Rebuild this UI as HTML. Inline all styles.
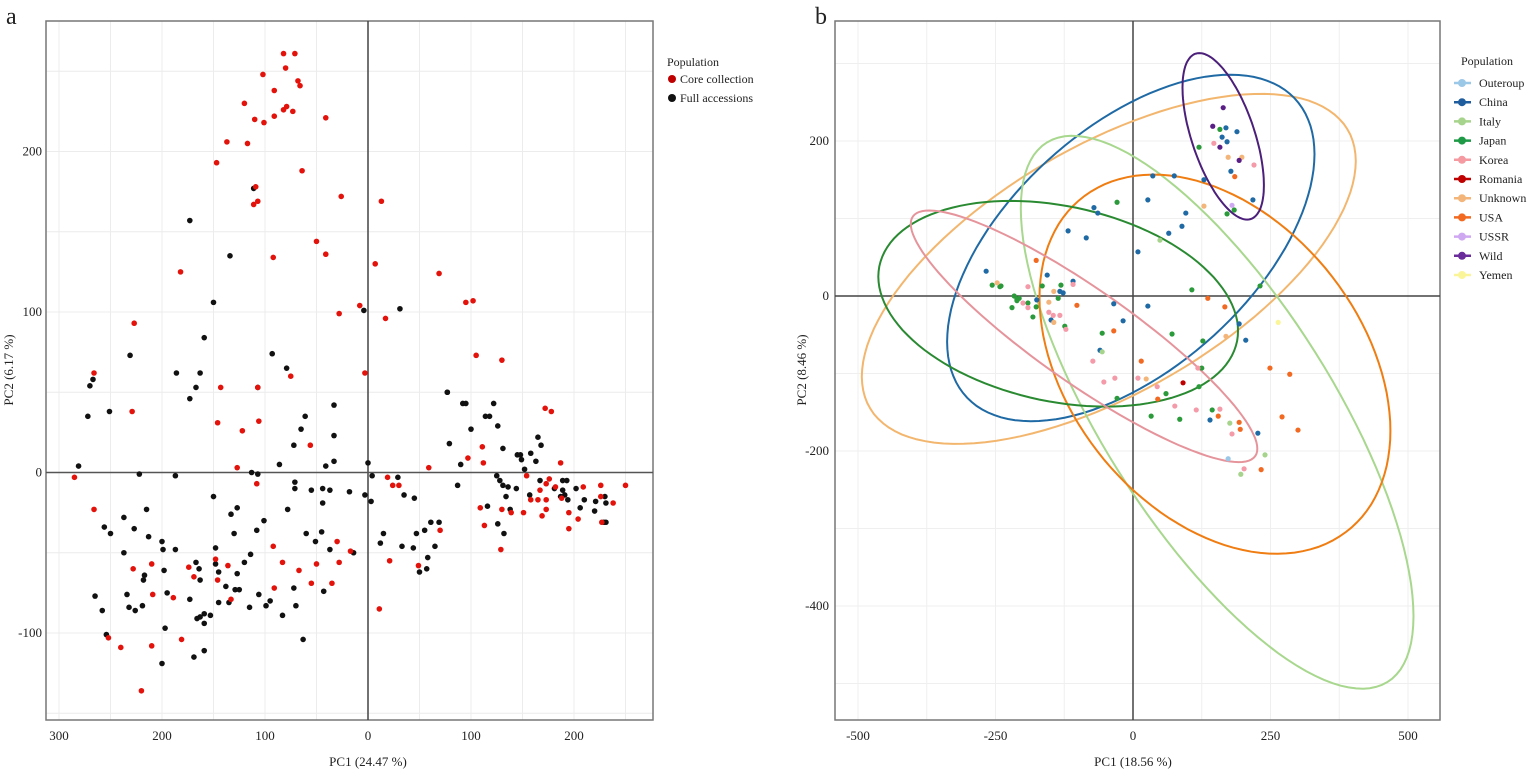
<!DOCTYPE html>
<html><head><meta charset="utf-8"><style>
body{margin:0;background:#fff;}
svg text{font-family:"Liberation Serif",serif;fill:#222;}
</style></head><body>
<svg id="chart" width="1535" height="776" viewBox="0 0 1535 776" xmlns="http://www.w3.org/2000/svg">
<rect width="1535" height="776" fill="#fff"/>
<text x="6" y="24" font-size="24">a</text>
<text x="815" y="24" font-size="24">b</text>
<g id="pa"></g>
<g id="pb"></g>
</svg>
<script>
// ---------- Panel a data ----------
const aXTicks = [-300,-200,-100,0,100,200];
const aYTicks = [-100,0,100,200];
const coreCollection = [[-82,261],[-71,261],[-80,252],[-102,248],[-68,244],[-66,241],[-91,238],[-120,230],[-79,228],[-82,226],[-73,225],[-91,222],[-110,220],[-101,218],[-41,221],[-137,206],[-117,205],[-147,193],[-64,188],[-109,178],[-26,172],[-107,169],[-111,167],[13,169],[-50,144],[-41,136],[-92,134],[7,130],[-182,125],[69,124],[95,106],[102,107],[-8,104],[-28,99],[17,96],[-227,93],[105,73],[130,70],[-266,62],[-3,62],[-75,60],[-143,53],[-107,53],
[-285,-3],[-266,-23],[-229,38],[-146,31],[-122,26],[-127,3],[-108,-7],[-56,17],[-106,32],[-228,-60],[-210,-57],[-209,-76],[-189,-78],[-174,-59],[-169,-65],[-148,-54],[-146,-67],[-136,-58],[-133,-79],[-92,-46],[-83,-56],[-91,-72],[-67,-61],[-55,-69],[-50,-57],[-35,-69],[-30,-43],[-28,-56],[-17,-49],[-252,-103],[-240,-109],[-210,-108],[-181,-104],[-220,-136],
[172,40],[178,38],[111,16],[97,9],[112,6],[59,3],[187,6],[154,-2],[176,-4],[173,-7],[167,-11],[182,-9],[188,-16],[209,-9],[226,-8],[250,-8],[238,-19],[226,-15],[158,-17],[165,-17],[173,-17],[173,-23],[151,-25],[139,-25],[130,-23],[109,-22],[169,-27],[195,-25],[204,-29],[195,-35],[113,-33],[129,-48],[227,-31],[70,-36],[19,-3],[24,-8],[30,-8],[21,-55],[49,-58],[11,-85]];
const fullAccessions = [[-173,157],[-134,135],[-111,177],[-150,106],[-4,101],[31,102],[-231,73],[-159,84],[-93,74],[-186,62],[-163,62],[-79,65],[-267,58],[-270,54],[-167,53],[-107,53],[77,50],[-173,46],
[-272,35],[-251,38],[-33,42],[-61,35],[-65,27],[-33,23],[-72,17],[-86,5],[-41,4],[-33,7],[0,6],[-113,0],[-107,-1],[-71,-6],[-71,-10],[-55,-11],[-44,-10],[-37,-11],[-18,-12],[-3,-14],[3,-18],[4,-2],[29,-3],[35,-14],[45,-16],[-44,-19],[-78,-23],[-127,-22],[-133,-26],[-150,-15],[-187,-2],[-222,-1],[-281,4],[-237,-28],[-227,-35],[-256,-34],[-250,-38],[-215,-23],[-213,-40],[-237,-50],[-200,-43],[-199,-48],[-198,-61],[-187,-48],[-130,-38],[-101,-30],[-108,-36],[-60,-38],[-51,-43],[-45,-37],[-37,-48],[-14,-50],[15,-38],[12,-44],[33,-46],[44,-47],[47,-38],[55,-36],[61,-31],[69,-31],[65,-46],[58,-53],[57,-60],[50,-62],[-114,-51],[-120,-56],[-127,-63],[-148,-57],[-167,-56],[-164,-60],[-148,-47],[-145,-62],[-163,-67],[-138,-71],[-129,-73],[-125,-73],[-217,-64],[-218,-67],[-195,-75],[-234,-76],[-265,-77],[-258,-86],[-232,-84],[-226,-86],[-219,-83],[-173,-79],[-145,-81],[-135,-81],[-115,-84],[-106,-76],[-95,-80],[-99,-83],[-83,-89],[-72,-72],[-70,-83],[-43,-74],[-166,-91],[-163,-90],[-159,-88],[-153,-89],[-159,-94],[-197,-97],[-254,-101],[-169,-115],[-159,-111],[-200,-119],[-63,-104],
[77,50],[92,43],[95,43],[122,43],[114,35],[118,35],[100,27],[126,29],[79,18],[165,22],[168,17],[131,15],[145,11],[148,11],[158,12],[149,8],[163,7],[90,5],[125,-2],[128,-5],[152,2],[131,-8],[136,-9],[144,-10],[167,-5],[181,-10],[189,-5],[193,-5],[189,-11],[191,-14],[194,-17],[187,-15],[202,-10],[210,-17],[206,-22],[221,-18],[230,-15],[231,-19],[220,-24],[229,-31],[231,-31],[134,-15],[138,-23],[116,-21],[157,-14],[126,-32],[132,-38],[87,-8]];

// ---------- Panel b data ----------
const bXTicks = [-500,-250,0,250,500];
const bYTicks = [-400,-200,0,200];
const popNames = ["Outeroup","China","Italy","Japan","Korea","Romania","Unknown","USA","USSR","Wild","Yemen"];
const popColors = ["#9cc8e8","#1f5d9e","#a6d48c","#1e9a46","#f49aa0","#c00000","#f3b579","#f26a22","#cfa8f2","#6a2c9a","#fbf59a"];
const outgroupPts = [[173,-210]];
const chinaPts = [[169,217],[189,212],[162,205],[171,199],[178,161],[129,150],[218,124],[36,155],[75,155],[27,124],[96,107],[65,81],[89,90],[9,57],[-71,114],[-64,107],[-118,84],[-85,75],[-267,32],[-156,27],[-109,19],[-133,6],[-127,4],[-175,-5],[-35,-10],[27,-13],[-18,-32],[-149,-31],[-60,-70],[193,-36],[205,-57],[140,-160],[227,-177]];
const italyPts = [[49,72],[-56,-72],[176,-164],[240,-205],[196,-230]];
const japanPts = [[158,215],[120,192],[-29,121],[171,106],[184,111],[-256,14],[-242,12],[-240,13],[-216,0],[-211,-4],[-207,-3],[-211,-6],[-220,-15],[-191,-9],[-176,-14],[-182,-27],[-165,13],[-131,14],[-136,-3],[-124,-39],[-56,-48],[107,8],[71,-49],[127,-58],[125,-93],[120,-117],[60,-126],[-29,-132],[33,-155],[85,-159],[144,-147],[231,13]];
const koreaPts = [[147,197],[220,169],[-191,12],[-200,-9],[-191,-15],[-153,-21],[-145,-25],[-133,-25],[-122,-43],[-109,15],[-73,-84],[-53,-111],[-33,-106],[9,-106],[44,-117],[76,-142],[115,-147],[158,-146],[118,-93],[180,-178],[202,-223]];
const romaniaPts = [[91,-112]];
const unknownPts = [[173,179],[198,179],[129,116],[-247,17],[-144,6],[-153,-8],[-144,-34],[24,-107],[169,-52]];
const usaPts = [[185,154],[-176,46],[-102,-12],[-35,-45],[15,-84],[45,-133],[136,-3],[167,-14],[155,-155],[193,-163],[195,-172],[249,-93],[285,-101],[271,-156],[300,-173],[233,-224]];
const ussrPts = [[180,117]];
const wildPts = [[164,243],[145,219],[158,192],[193,175]];
const yemenPts = [[264,-34]];
// ellipses: center, axis vector a, axis vector b (data units)
const ellipseNames = ["unknown","china","italy","usa","japan","korea","wild"];
const ellipseColors = ["#f3b66e","#1f6aa5","#a8d78e","#ef7d12","#2a8a32","#e6949b","#4b1f7a"];
const ellipseCenters = [[-44,35],[-4,62],[153,-150],[149,-88],[-136,-10],[-89,-52],[164,206]];
const ellipseAxisA = [[449,139],[334,121],[357,-263],[319,-86],[327,-35],[315,-145],[74,-63]];
const ellipseAxisB = [[0,-178],[0,-188],[0,-241],[0,-229],[0,-128],[0,-73],[0,-87]];

const NS="http://www.w3.org/2000/svg";
function mk(parent,tag,attrs,txt){const e=document.createElementNS(NS,tag);for(const k in attrs)e.setAttribute(k,attrs[k]);if(txt!==undefined)e.textContent=txt;parent.appendChild(e);return e;}

// ---------- Panel a ----------
(function(){
const g=document.getElementById('pa');
const L=46,R=653,T=21,B=720;
const sx=v=>368+v*1.03, sy=v=>472.5-v*1.605;
for(let v=-300;v<=250;v+=50){const x=sx(v);if(x>L&&x<R){const l=mk(g,'line',{x1:x,x2:x,y1:T,y2:B,stroke:'#ececec','stroke-width':1});

}}
for(let v=-150;v<=300;v+=50){const y=sy(v);if(y>T&&y<B){const l=mk(g,'line',{x1:L,x2:R,y1:y,y2:y,stroke:'#ececec','stroke-width':1});

}}
const f=mk(g,'rect',{x:L,y:T,width:R-L,height:B-T,fill:'none',stroke:'#777','stroke-width':1.5});


const zx=mk(g,'line',{x1:sx(0),x2:sx(0),y1:T,y2:B,stroke:'#444','stroke-width':1.5});


const zy=mk(g,'line',{x1:L,x2:R,y1:sy(0),y2:sy(0),stroke:'#555','stroke-width':1.5});


aXTicks.forEach(v=>{const t=mk(g,'text',{x:sx(v),y:740,'font-size':13,'text-anchor':'middle'},String(Math.abs(v)));

});
aYTicks.forEach(v=>{const t=mk(g,'text',{x:42,y:sy(v)+4,'font-size':13,'text-anchor':'end'},String(v));

});
const xt=mk(g,'text',{x:368,y:766,'font-size':13,'text-anchor':'middle'},'PC1 (24.47 %)');


const yt=mk(g,'text',{x:0,y:0,'font-size':13,'text-anchor':'middle',transform:'translate(13,370) rotate(-90)'},'PC2 (6.17 %)');


fullAccessions.forEach(p=>{const c=mk(g,'circle',{cx:sx(p[0]),cy:sy(p[1]),r:2.8,fill:'#111'});

});
coreCollection.forEach(p=>{const c=mk(g,'circle',{cx:sx(p[0]),cy:sy(p[1]),r:2.8,fill:'#e3120b'});

});
const lt=mk(g,'text',{x:667,y:66,'font-size':12},'Population');


[['Core collection','#c00000'],['Full accessions','#111']].forEach((e,i)=>{
const y=80+i*19;
const c=mk(g,'circle',{cx:672,cy:y-1,r:4,fill:e[1]});


const t=mk(g,'text',{x:680,y:y+3,'font-size':12},e[0]);

});
})();

// ---------- Panel b ----------
(function(){
const g=document.getElementById('pb');
const L=835,R=1440,T=21,B=720;
const sx=v=>1133+v*0.55, sy=v=>296-v*0.775;
for(let v=-625;v<=625;v+=125){const x=sx(v);if(x>L&&x<R){const l=mk(g,'line',{x1:x,x2:x,y1:T,y2:B,stroke:'#efefef','stroke-width':1});

}}
for(let v=-500;v<=400;v+=100){const y=sy(v);if(y>T&&y<B){const l=mk(g,'line',{x1:L,x2:R,y1:y,y2:y,stroke:'#efefef','stroke-width':1});

}}
const f=mk(g,'rect',{x:L,y:T,width:R-L,height:B-T,fill:'none',stroke:'#777','stroke-width':1.5});


const zx=mk(g,'line',{x1:sx(0),x2:sx(0),y1:T,y2:B,stroke:'#444','stroke-width':1.5});


const zy=mk(g,'line',{x1:L,x2:R,y1:sy(0),y2:sy(0),stroke:'#444','stroke-width':1.5});


bXTicks.forEach(v=>{const t=mk(g,'text',{x:sx(v),y:740,'font-size':13,'text-anchor':'middle'},String(v));

});
bYTicks.forEach(v=>{const t=mk(g,'text',{x:829,y:sy(v)+4,'font-size':13,'text-anchor':'end'},String(v));

});
const xt=mk(g,'text',{x:1133,y:766,'font-size':13,'text-anchor':'middle'},'PC1 (18.56 %)');


const yt=mk(g,'text',{x:0,y:0,'font-size':13,'text-anchor':'middle',transform:'translate(806,370) rotate(-90)'},'PC2 (8.46 %)');


// ellipses
ellipseNames.forEach((n,i)=>{
const c=ellipseCenters[i],a=ellipseAxisA[i],b=ellipseAxisB[i];let d='';
for(let k=0;k<=120;k++){const th=k/120*2*Math.PI;const vx=c[0]+a[0]*Math.cos(th)+b[0]*Math.sin(th);const vy=c[1]+a[1]*Math.cos(th)+b[1]*Math.sin(th);
d+=(k?'L':'M')+sx(vx).toFixed(1)+','+sy(vy).toFixed(1);}
const p=mk(g,'path',{d:d+'Z',fill:'none',stroke:ellipseColors[i],'stroke-width':2});

});
const groups=[outgroupPts,chinaPts,italyPts,japanPts,koreaPts,romaniaPts,unknownPts,usaPts,ussrPts,wildPts,yemenPts];
const ptColors=["#9cc8e8","#1f6aa5","#a6d48c","#2a9a3a","#f49aa8","#c00000","#f3b579","#f26a22","#cfa8f2","#5a1f86","#fbf59a"];
groups.forEach((arr,i)=>{arr.forEach(p=>{const c=mk(g,'circle',{cx:sx(p[0]),cy:sy(p[1]),r:2.6,fill:ptColors[i]});

});});
const lt=mk(g,'text',{x:1461,y:65,'font-size':12},'Population');


popNames.forEach((n,i)=>{const y=83+i*19.2;
const l=mk(g,'line',{x1:1454,x2:1471,y1:y,y2:y,stroke:popColors[i],'stroke-width':2.5});


const c=mk(g,'circle',{cx:1462,cy:y,r:4,fill:popColors[i]});


const t=mk(g,'text',{x:1479,y:y+4,'font-size':12},n);

});
})();
</script>
</body></html>
